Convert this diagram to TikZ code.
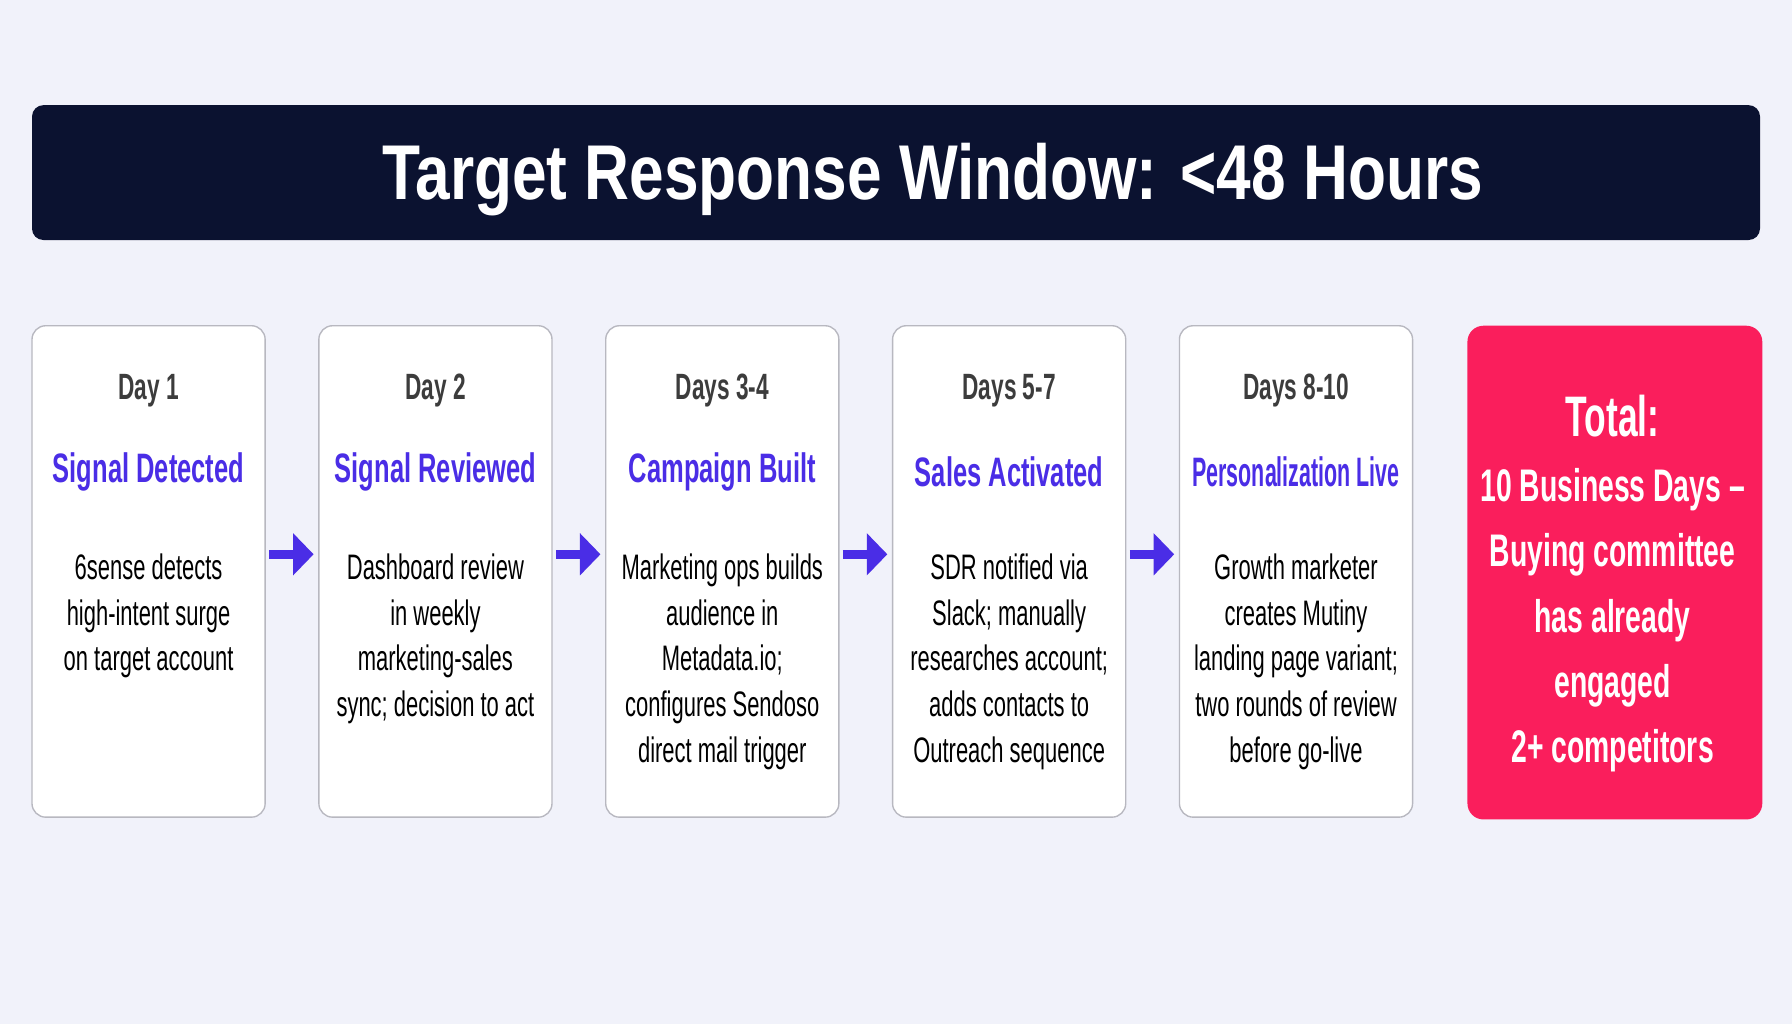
\documentclass[tikz,border=0pt]{standalone}
\usepackage{fontspec}
\setmainfont{Liberation Sans}
\newfontfamily\narrowfont{Liberation Sans}[FakeStretch=0.62]
\newfontfamily\bannerfont{Liberation Sans}[FakeStretch=0.8]
\usetikzlibrary{arrows.meta}
\definecolor{pagebg}{HTML}{F1F2FA}
\definecolor{navy}{HTML}{0B1230}
\definecolor{violet}{HTML}{4A2DE6}
\definecolor{alert}{HTML}{FA1E5C}
\definecolor{daygray}{HTML}{3C3C3C}
\definecolor{cardline}{HTML}{B8B8C0}

\begin{document}
\begin{tikzpicture}[x=0.5pt,y=-0.5pt,
    banner/.style = {rectangle,rounded corners=5pt,fill=navy,minimum width=756pt,minimum height=59pt},
    card/.style = {rectangle,rounded corners=6pt,draw=cardline,fill=white,line width=0.6pt,minimum width=102pt,minimum height=215pt},
    totalcard/.style = {rectangle,rounded corners=7pt,fill=alert,minimum width=129pt,minimum height=216pt},
    day/.style = {font=\narrowfont\bfseries\fontsize{16}{19}\selectfont,text=daygray,inner sep=0pt},
    stage/.style = {font=\narrowfont\bfseries\fontsize{18}{22}\selectfont,text=violet,inner sep=0pt},
    detail/.style = {font=\narrowfont\fontsize{15.5}{20}\selectfont,align=center,inner sep=0pt,anchor=north},
    flow/.style = {line width=4pt,violet,-{Triangle[length=9pt,width=18pt]},shorten <=1.5pt,shorten >=2pt}]
    \fill[pagebg] (0,0) rectangle (1568,896);
    \node[banner] (banner) at (784,151) {};
    \node[text=white,font=\bannerfont\bfseries\fontsize{34}{40}\selectfont] (headline) at (816,157) {Target Response Window: <48 Hours};
    \foreach \d/\t/\s [count=\j from 0] in {{Day 1}/{Signal Detected}/{6sense detects\\high-intent surge\\on target account},
        {Day 2}/{Signal Reviewed}/{Dashboard review\\in weekly\\marketing-sales\\sync; decision to act},
        {Days 3-4}/{Campaign Built}/{Marketing ops builds\\audience in\\Metadata.io;\\configures Sendoso\\direct mail trigger},
        {Days 5-7}/{Sales Activated}/{SDR notified via\\Slack; manually\\researches account;\\adds contacts to\\Outreach sequence},
        {Days 8-10}/{\scalebox{0.84}[1]{Personalization Live}}/{Growth marketer\\creates Mutiny\\landing page variant;\\two rounds of review\\before go-live}} {
        \node[card] (card\j) at (130+251*\j,500) {};
        \node[day] (day\j) at (130+251*\j,342) {\d};
        \node[stage] (stage\j) at (130+251*\j,413) {\t};
        \node[detail] (detail\j) at (130+251*\j,484) {\s};
    }
    \foreach \j [count=\k from 1] in {0,...,3} \draw[flow] ([yshift=7.5pt]card\j.east) -- ([yshift=7.5pt]card\k.west);
    \node[totalcard] (totalcard) at (1413,501) {};
    \node[text=white,font=\narrowfont\bfseries\fontsize{25}{30}\selectfont] (total) at (1411,364) {Total:};
    \node[text=white,align=center,font=\narrowfont\bfseries\fontsize{20}{28.5}\selectfont,anchor=north] (verdict) at (1411,403) {10 Business Days –\\Buying committee\\has already\\engaged\\2+ competitors};
\end{tikzpicture}
\end{document}
